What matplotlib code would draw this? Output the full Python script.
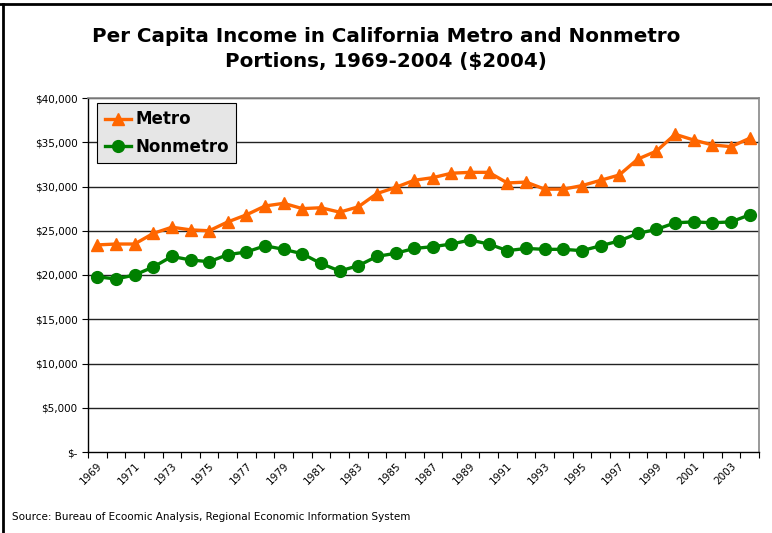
import numpy as np
import matplotlib.pyplot as plt
from matplotlib.lines import Line2D

years = list(range(1969, 2005))
metro = [23400, 23500, 23500, 24700, 25400, 25100, 25000, 26000, 26800, 27800,
         28100, 27500, 27600, 27100, 27700, 29200, 29900, 30700, 31000, 31500,
         31600, 31600, 30400, 30500, 29700, 29700, 30100, 30700, 31300, 33100,
         34000, 35900, 35250, 34700, 34500, 35450]
nonmetro = [19800, 19550, 20000, 20900, 22100, 21700, 21500, 22300, 22600, 23300,
            22900, 22400, 21300, 20450, 21050, 22100, 22450, 23000, 23200, 23500,
            23950, 23500, 22750, 23000, 22900, 22900, 22750, 23300, 23850, 24700,
            25150, 25900, 26000, 25900, 26000, 26800]
y_ticks = [0, 5000, 10000, 15000, 20000, 25000, 30000, 35000, 40000]
y_labels = ['$-', '$5,000', '$10,000', '$15,000', '$20,000', '$25,000',
            '$30,000', '$35,000', '$40,000']

W, H = 772, 533
fig = plt.figure(figsize=(W / 100, H / 100), dpi=100)
ax = fig.add_axes([88 / W, 1 - 452 / H, 671 / W, 354 / H])

x = np.arange(len(years))
ax.plot(x, metro, color='#ff6600', lw=2.4, marker='^', ms=9, label='Metro', zorder=3)
ax.plot(x, nonmetro, color='#008000', lw=2.4, marker='o', ms=8.5, label='Nonmetro', zorder=3)

ax.set_ylim(0, 40000)
ax.set_xlim(-0.5, len(years) - 0.5)
ax.set_yticks(y_ticks)
ax.set_yticklabels(y_labels, fontsize=7.5)
for v in y_ticks[1:]:
    ax.axhline(v, color='#222222', lw=1.0, zorder=1)

# category axis: ticks between categories, labels every other year
ax.set_xticks(np.arange(-0.5, len(years), 1.0))
ax.set_xticklabels([])
ax.set_xticks(x[::2], minor=True)
ax.set_xticklabels([str(y) for y in years[::2]], minor=True, rotation=45,
                   ha='right', va='top', fontsize=7.5, rotation_mode='anchor')
ax.tick_params(axis='x', which='major', direction='out', length=4, width=0.8)
ax.tick_params(axis='x', which='minor', length=0, pad=6)
ax.tick_params(axis='y', direction='out', length=4, width=0.8)

for s in ['top', 'right']:
    ax.spines[s].set_color('#888888')
    ax.spines[s].set_linewidth(1.2)
for s in ['left', 'bottom']:
    ax.spines[s].set_color('black')
    ax.spines[s].set_linewidth(1.0)

leg = ax.legend(loc='upper left', bbox_to_anchor=(9 / 671, 1 - 5 / 354),
                borderaxespad=0, fancybox=False, framealpha=1,
                facecolor='#e6e6e6', edgecolor='black',
                prop={'weight': 'bold', 'size': 12}, handlelength=1.6,
                borderpad=0.45, labelspacing=0.55, handletextpad=0.25)
leg.get_frame().set_linewidth(0.8)

fig.text(0.5, 1 - 37 / H, 'Per Capita Income in California Metro and Nonmetro',
         ha='center', va='center', fontsize=14.3, fontweight='bold')
fig.text(0.5, 1 - 62 / H, 'Portions, 1969-2004 ($2004)',
         ha='center', va='center', fontsize=14.3, fontweight='bold')
fig.text(12 / W, 1 - 517 / H,
         'Source: Bureau of Ecoomic Analysis, Regional Economic Information System',
         ha='left', va='center', fontsize=7.5)

# outer frame: top and left edges only
fig.add_artist(Line2D([0, 1], [1 - 4 / H, 1 - 4 / H], transform=fig.transFigure,
                      color='black', lw=2.0))
fig.add_artist(Line2D([3 / W, 3 / W], [0, 1 - 4 / H], transform=fig.transFigure,
                      color='black', lw=2.0))

fig.savefig('out.png', dpi=100)
